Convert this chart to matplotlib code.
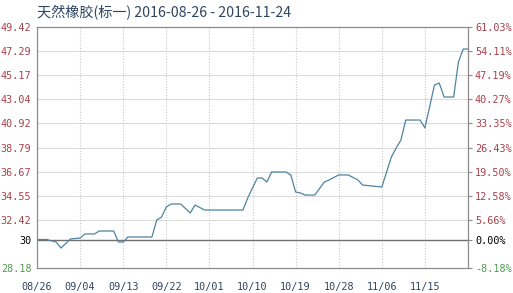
import numpy as np
import pandas as pd
import matplotlib
matplotlib.use('Agg')
import matplotlib.pyplot as plt

plt.rcParams['font.family'] = ['Noto Sans CJK SC', 'DejaVu Sans']

# price series (date, value)
dates = ['2016-08-26', '2016-08-28', '2016-08-30', '2016-08-31', '2016-09-02',
         '2016-09-04', '2016-09-05', '2016-09-07', '2016-09-08', '2016-09-11',
         '2016-09-12', '2016-09-13', '2016-09-14', '2016-09-19', '2016-09-20',
         '2016-09-21', '2016-09-22', '2016-09-23', '2016-09-25', '2016-09-27',
         '2016-09-28', '2016-09-30', '2016-10-08', '2016-10-09', '2016-10-11',
         '2016-10-12', '2016-10-13', '2016-10-14', '2016-10-17', '2016-10-18',
         '2016-10-19', '2016-10-20', '2016-10-21', '2016-10-23', '2016-10-25',
         '2016-10-26', '2016-10-28', '2016-10-30', '2016-11-01', '2016-11-02',
         '2016-11-06', '2016-11-08', '2016-11-09', '2016-11-10', '2016-11-11',
         '2016-11-14', '2016-11-15', '2016-11-17', '2016-11-18', '2016-11-19',
         '2016-11-21', '2016-11-22', '2016-11-23', '2016-11-24']
prices = [30.69, 30.69, 30.47, 29.94, 30.74,
          30.82, 31.18, 31.18, 31.44, 31.44,
          30.47, 30.47, 30.91, 30.91, 32.41,
          32.67, 33.56, 33.82, 33.82, 33.03,
          33.73, 33.29, 33.29, 34.35, 36.11,
          36.11, 35.76, 36.64, 36.64, 36.38,
          34.88, 34.79, 34.61, 34.61, 35.76,
          35.94, 36.38, 36.38, 35.94, 35.49,
          35.32, 37.96, 38.76, 39.46, 41.22,
          41.22, 40.52, 44.31, 44.48, 43.25,
          43.25, 46.33, 47.48, 47.48]

base = 30.69
y_ticks = [28.18, 30.69, 32.42, 34.55, 36.67, 38.79, 40.92, 43.04, 45.17, 47.29, 49.42]
y_labels = ['28.18', '30', '32.42', '34.55', '36.67', '38.79', '40.92', '43.04', '45.17', '47.29', '49.42']
pct_labels = ['-8.18%', '0.00%', '5.66%', '12.58%', '19.50%', '26.43%', '33.35%',
              '40.27%', '47.19%', '54.11%', '61.03%']
x_labels = ['08/26', '09/04', '09/13', '09/22', '10/01', '10/10', '10/19', '10/28', '11/06', '11/15']

start = pd.Timestamp('2016-08-26')
days = [(pd.Timestamp(d) - start).days for d in dates]

red = '#a8404c'
green = '#4f9a4f'
navy = '#2f4560'

fig = plt.figure(figsize=(5.13, 2.93), dpi=100)
ax = fig.add_axes([37/513, 25/293, 431/513, 241/293])

ax.set_xlim(0, 90)
ax.set_ylim(28.18, 49.42)

# grid
for v in y_ticks[2:]:
    ax.axhline(v, color='#dcdcdc', lw=0.8, zorder=1)
x_pos = [9 * i for i in range(len(x_labels))]
for xp in x_pos[1:]:
    ax.axvline(xp, color='#c8c8c8', lw=0.8, ls=(0, (1, 1.5)), zorder=1)
ax.axhline(base, color='#707070', lw=1.0, zorder=2)

ax.plot(days, prices, color='#4f83a0', lw=0.9, zorder=3)

for s in ax.spines.values():
    s.set_color('#8a8a8a')
    s.set_linewidth(0.8)

ax.set_yticks(y_ticks)
ax.set_yticklabels(y_labels, family='DejaVu Sans Mono', fontsize=7.3)
ax.tick_params(axis='y', length=0, pad=4)
for lab, v in zip(ax.get_yticklabels(), y_ticks):
    lab.set_color(green if v < base else ('black' if v == base else red))

ax.set_xticks(x_pos)
ax.set_xticklabels(x_labels, family='DejaVu Sans Mono', fontsize=7.3, color=navy)
ax.tick_params(axis='x', length=0, pad=10)

ax2 = ax.twinx()
ax2.set_ylim(28.18, 49.42)
ax2.set_yticks(y_ticks)
ax2.set_yticklabels(pct_labels, family='DejaVu Sans Mono', fontsize=7.3)
ax2.tick_params(axis='y', length=3, width=0.8, color='#8a8a8a', pad=2)
for lab, v in zip(ax2.get_yticklabels(), y_ticks):
    lab.set_color(green if v < base else ('black' if v == base else red))
for s in ax2.spines.values():
    s.set_color('#8a8a8a')
    s.set_linewidth(0.8)

fig.text(37/513, 1 - 13/293, '天然橡胶(标一) 2016-08-26 - 2016-11-24',
         fontsize=10.2, color=navy, va='center', ha='left')

fig.savefig('out.png', dpi=100)
